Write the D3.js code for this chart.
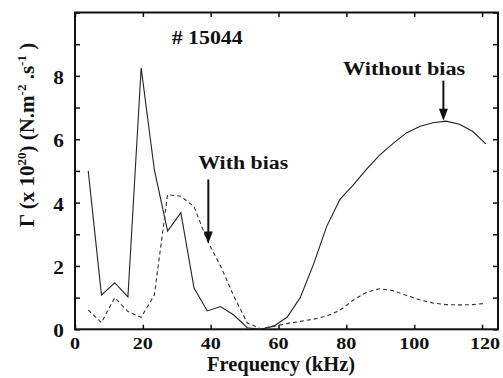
<!DOCTYPE html>
<html>
<head>
<meta charset="utf-8">
<script src="https://cdn.jsdelivr.net/npm/d3@7"></script>
<style>
  body { margin: 0; background: #fff; }
  svg text { font-family: "Liberation Serif", "Times New Roman", Times, "DejaVu Serif", serif; font-weight: bold; fill: #111; }
</style>
</head>
<body>
<div id="chart"></div>
<script>
// frequency samples (kHz)
var freq = [3.9, 7.8, 11.7, 15.6, 19.5, 23.4, 27.3, 31.2, 35.1, 39.0, 42.9, 46.8, 50.8, 54.7,
            58.6, 62.5, 66.4, 70.3, 74.2, 78.1, 82.0, 85.9, 89.8, 93.8, 97.7, 101.6, 105.5,
            109.4, 113.3, 117.2, 121.1];
// Gamma (x 1e20) without bias - solid
var withoutBias = [5.0, 1.08, 1.47, 1.02, 8.25, 5.03, 3.1, 3.68, 1.3, 0.58, 0.72, 0.45, 0.05, 0.0,
                   0.1, 0.38, 1.0, 2.05, 3.25, 4.1, 4.55, 5.05, 5.5, 5.87, 6.2, 6.4, 6.52,
                   6.57, 6.47, 6.25, 5.85];
// Gamma (x 1e20) with bias - dashed
var withBias = [0.61, 0.21, 1.0, 0.56, 0.38, 1.08, 4.25, 4.2, 3.87, 2.8, 2.0, 1.05, 0.2, 0.02,
                0.1, 0.18, 0.25, 0.32, 0.42, 0.6, 0.92, 1.17, 1.28, 1.22, 1.07, 0.93, 0.83,
                0.78, 0.77, 0.78, 0.82];
var xTicks = [0, 20, 40, 60, 80, 100, 120];
var yTicks = [0, 1, 2, 3, 4, 5, 6, 7, 8, 9, 10];
var yLabels = [0, 2, 4, 6, 8];

var W = 503, H = 378;
var m = {left: 75, top: 12.5, right: 5, bottom: 48.7};
var iw = W - m.left - m.right, ih = H - m.top - m.bottom;

var svg = d3.select("#chart").append("svg").attr("width", W).attr("height", H);
var g = svg.append("g").attr("transform", "translate(" + m.left + "," + m.top + ")");

var x = d3.scaleLinear().domain([0, 124.7]).range([0, iw]);
var y = d3.scaleLinear().domain([0, 10]).range([ih, 0]);

// stretched text helper (the original print looks a bit wide)
function label(sel, px, py, txt, size, anchor) {
  return sel.append("text")
    .attr("transform", "translate(" + px + "," + py + ") scale(1.15,1)")
    .attr("text-anchor", anchor || "start")
    .style("font-size", size + "px")
    .text(txt);
}

// ticks, all inward
function ticks(axis, tr) {
  var a = g.append("g").attr("transform", tr)
    .call(axis.tickSizeOuter(0).tickFormat(""));
  a.select(".domain").remove();
  a.selectAll("line").attr("stroke", "#111").attr("stroke-width", 1.5);
}
ticks(d3.axisLeft(y).tickValues(yTicks).tickSizeInner(-5), "translate(0,0)");
ticks(d3.axisRight(y).tickValues(yTicks).tickSizeInner(-5), "translate(" + iw + ",0)");
ticks(d3.axisBottom(x).tickValues(xTicks).tickSizeInner(-4.5), "translate(0," + ih + ")");
ticks(d3.axisTop(x).tickValues(xTicks).tickSizeInner(-4.5), "translate(0,0)");

// frame
g.append("rect").attr("width", iw).attr("height", ih)
  .attr("fill", "none").attr("stroke", "#111").attr("stroke-width", 2);

// tick labels
yLabels.forEach(function (d) { label(g, -11, y(d) + 8, d, 18.5, "end"); });
xTicks.forEach(function (d) { label(g, x(d) + (d === 120 ? 3 : 0), ih + 19.5, d, 17.5, "middle"); });

// series
var line = d3.line().x(function (d, i) { return x(freq[i]); }).y(function (d) { return y(d); });
g.append("path").datum(withoutBias).attr("d", line)
  .attr("fill", "none").attr("stroke", "#222").attr("stroke-width", 1.1);
g.append("path").datum(withBias).attr("d", line)
  .attr("fill", "none").attr("stroke", "#333").attr("stroke-width", 1.1)
  .attr("stroke-dasharray", "4,3");

// annotations
function arrow(fx, y0, y1) {
  var px = x(fx), a = y(y0), b = y(y1);
  g.append("line").attr("x1", px).attr("x2", px).attr("y1", a).attr("y2", b - 10)
    .attr("stroke", "#111").attr("stroke-width", 2);
  g.append("path")
    .attr("d", "M" + (px - 4.5) + "," + (b - 12) + "L" + (px + 4.5) + "," + (b - 12) + "L" + px + "," + b + "Z")
    .attr("fill", "#111");
}
arrow(39.3, 4.73, 2.71);
arrow(108.6, 7.85, 6.58);

label(g, x(28.5), y(9.0), "# 15044", 19, "start");
label(g, x(36.3), y(5.06), "With bias", 19, "start");
label(g, x(79.0), y(8.03), "Without bias", 19.3, "start");

// axis titles
svg.append("text").attr("x", 281).attr("y", 371).attr("text-anchor", "middle")
  .style("font-size", "20.5px").text("Frequency (kHz)");

var yt = svg.append("text")
  .attr("transform", "translate(34,135) rotate(-90)")
  .attr("text-anchor", "middle").style("font-size", "21px");
yt.append("tspan").text("\u0393 (x 10");
yt.append("tspan").attr("dy", -8).style("font-size", "13px").text("20");
yt.append("tspan").attr("dy", 8).text(") (N.m");
yt.append("tspan").attr("dy", -8).style("font-size", "13px").text("-2");
yt.append("tspan").attr("dy", 8).text(" .s");
yt.append("tspan").attr("dy", -8).style("font-size", "13px").text("-1");
yt.append("tspan").attr("dy", 8).text(" )");
</script>
</body>
</html>
